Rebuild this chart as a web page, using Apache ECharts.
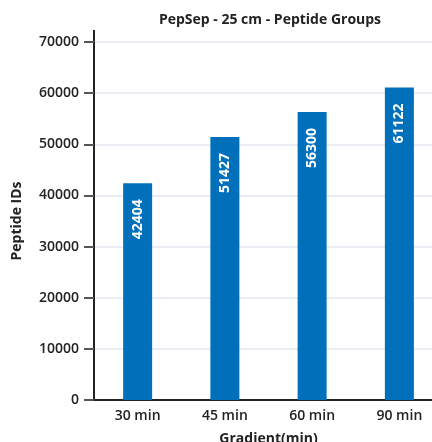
<!DOCTYPE html>
<html>
<head>
<meta charset="utf-8">
<script src="https://cdn.jsdelivr.net/npm/echarts@6/dist/echarts.min.js"></script>
<style>
  html, body { margin: 0; padding: 0; background: #fff; }
  #chart { width: 432px; height: 442px; }
</style>
</head>
<body>
<div id="chart"></div>
<script>
const categories = ['30 min', '45 min', '60 min', '90 min']
const peptideGroups = [42404, 51427, 56300, 61122]
const yMax = 70000
const yStep = 10000

const chart = echarts.init(document.getElementById('chart'))
const font = 'Open Sans'

chart.setOption({
  animation: false,
  title: {
    text: 'PepSep - 25 cm - Peptide Groups',
    left: 265,
    textAlign: 'center',
    top: 8,
    textStyle: { fontFamily: font, fontSize: 14, fontWeight: 700, color: '#222' },
  },
  grid: {
    left: 94,
    right: -11,
    top: 42,
    bottom: 42,
    containLabel: false,
    outerBoundsMode: 'none',
  },
  xAxis: {
    type: 'category',
    data: categories,
    name: 'Gradient(min)',
    nameLocation: 'middle',
    nameGap: 32,
    nameTextStyle: { fontFamily: font, fontSize: 14, fontWeight: 700, color: '#222' },
    axisLine: { lineStyle: { color: '#222', width: 2 } },
    axisTick: { show: false },
    axisLabel: { fontFamily: font, fontSize: 14, fontWeight: 600, color: '#222', margin: 9 },
  },
  yAxis: [
    {
      type: 'value',
      min: 0,
      max: yMax,
      interval: yStep,
      name: 'Peptide IDs',
      nameLocation: 'middle',
      nameGap: 70,
      nameTextStyle: { fontFamily: font, fontSize: 14, fontWeight: 700, color: '#222' },
      axisLine: { show: true, lineStyle: { color: '#222', width: 2 } },
      axisTick: { show: true, length: 10, lineStyle: { color: '#555', width: 2 } },
      axisLabel: {
        fontFamily: font, fontSize: 14, fontWeight: 600, color: '#222',
        margin: 15,
        formatter: (v) => String(v),
      },
      splitLine: { lineStyle: { color: '#e3e9f1', width: 1.5 } },
    },
    {
      // tick-only axis on the left, overlaid on the main one
      type: 'value',
      position: 'left',
      min: 0,
      max: yMax,
      interval: yStep,
      axisLine: { show: false },
      axisTick: { show: true, length: 10, lineStyle: { color: '#555', width: 2 } },
      axisLabel: { show: false },
      splitLine: { show: false },
    },
  ],
  graphic: [
    {
      type: 'line',
      shape: { x1: 94, y1: 30, x2: 94, y2: 42 },
      style: { stroke: '#222', lineWidth: 2 },
    },
  ],
  series: [
    {
      type: 'bar',
      data: peptideGroups,
      barWidth: 29,
      itemStyle: { color: '#0070bb' },
      label: {
        show: true,
        position: 'insideTop',
        rotate: 90,
        align: 'right',
        verticalAlign: 'middle',
        distance: 16,
        color: '#fff',
        fontFamily: font,
        fontSize: 14,
        fontWeight: 700,
      },
    },
  ],
})
</script>
</body>
</html>
